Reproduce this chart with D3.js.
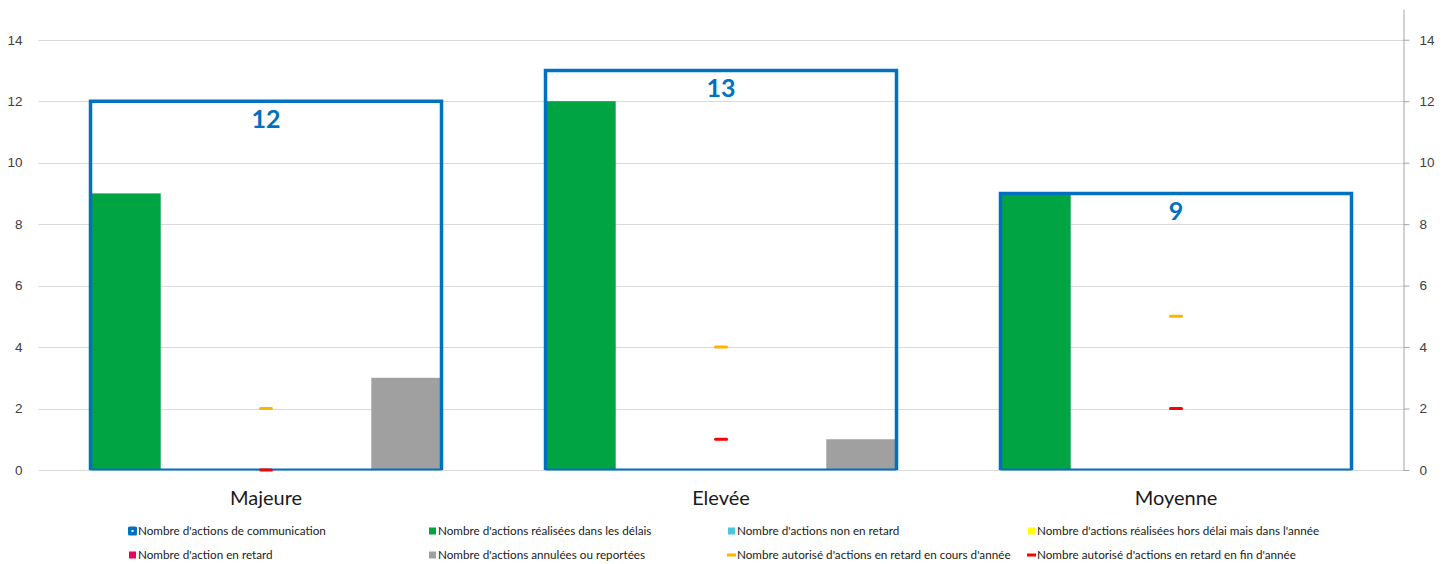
<!DOCTYPE html>
<html>
<head>
<meta charset="utf-8">
<script src="https://cdn.jsdelivr.net/npm/d3@7"></script>
<style>
  body { margin: 0; background: #fff; }
  svg { font-family: Lato, "Open Sans", sans-serif; }
  .tick text { fill: #404040; font-size: 13.5px; }
</style>
</head>
<body>
<script>
const categories = ["Majeure", "Elevée", "Moyenne"];
const communication = [12, 13, 9];
const barSeries = [
  "Nombre d'actions réalisées dans les délais",
  "Nombre d'actions non en retard",
  "Nombre d'actions réalisées hors délai mais dans l'année",
  "Nombre d'action en retard",
  "Nombre d'actions annulées ou reportées"
];
const barValues = [
  [9, 12, 9],
  [0, 0, 0],
  [0, 0, 0],
  [0, 0, 0],
  [3, 1, 0]
];
const autoCours = [2, 4, 5];
const autoFin = [0, 1, 2];
const yTicks = [0, 2, 4, 6, 8, 10, 12, 14];

const w = 1448, h = 564;
const colors = ["#00A443", "#4BC6DA", "#FFFF00", "#F0005A", "#A0A0A0"];
const blue = "#0070C0";

const svg = d3.select("body").append("svg").attr("width", w).attr("height", h);

const plotL = 38.5, plotR = 1403.5, plotT = 9, plotB = 470;

const y = d3.scaleLinear().domain([0, 15]).range([plotB, plotT]);
const x0 = d3.scaleBand().domain(categories).range([plotL, plotR])
  .paddingInner(104 / 455).paddingOuter(52 / 455);
const x1 = d3.scaleBand().domain(d3.range(barSeries.length)).range([0, x0.bandwidth()]);

// grid
svg.append("g").selectAll("line").data(yTicks).enter().append("line")
  .attr("x1", plotL).attr("x2", plotR)
  .attr("y1", d => Math.round(y(d)) + 0.5).attr("y2", d => Math.round(y(d)) + 0.5)
  .attr("stroke", "#d9d9d9").attr("stroke-width", 1);

// left axis, no line
const la = svg.append("g").attr("transform", `translate(${plotL},0)`)
  .call(d3.axisLeft(y).tickValues(yTicks).tickSize(0).tickPadding(16));
la.select(".domain").remove();

// right axis
const ra = svg.append("g").attr("transform", `translate(${plotR},0)`)
  .call(d3.axisRight(y).tickValues(yTicks).tickSize(6).tickPadding(10).tickSizeOuter(0));
ra.selectAll("line, .domain").attr("stroke", "#a6a6a6");

// bars
const groups = svg.append("g").selectAll("g").data(categories).enter().append("g")
  .attr("transform", d => `translate(${x0(d)},0)`);

groups.each(function (c, ci) {
  const g = d3.select(this);
  const bw = x0.bandwidth();
  barSeries.forEach((s, si) => {
    const v = barValues[si][ci];
    if (v > 0) {
      g.append("rect")
        .attr("x", x1(si)).attr("width", x1.bandwidth())
        .attr("y", y(v)).attr("height", y(0) - y(v))
        .attr("fill", colors[si]);
    }
  });
  // communication box: thick sides and top, thin bottom
  const yt = y(communication[ci]);
  g.append("path")
    .attr("d", `M0,${y(0)}V${yt}H${bw}V${y(0)}`)
    .attr("fill", "none").attr("stroke", blue).attr("stroke-width", 3.5);
  g.append("line")
    .attr("x1", 0).attr("x2", bw).attr("y1", y(0) - 0.5).attr("y2", y(0) - 0.5)
    .attr("stroke", blue).attr("stroke-width", 2);
  g.append("text")
    .attr("x", bw / 2).attr("y", yt + 27)
    .attr("text-anchor", "middle").attr("font-size", 25).attr("font-weight", "bold")
    .attr("fill", blue).text(communication[ci]);
  // markers
  const cx = bw / 2;
  [[autoCours, "#FFB300"], [autoFin, "#FF0000"]].forEach(([arr, col]) => {
    g.append("line")
      .attr("x1", cx - 5.5).attr("x2", cx + 5.5)
      .attr("y1", y(arr[ci])).attr("y2", y(arr[ci]))
      .attr("stroke", col).attr("stroke-width", 3).attr("stroke-linecap", "round");
  });
});

// category labels
svg.append("g").selectAll("text").data(categories).enter().append("text")
  .attr("x", d => x0(d) + x0.bandwidth() / 2).attr("y", 505)
  .attr("text-anchor", "middle").attr("font-size", 20).attr("fill", "#1a1a1a")
  .text(d => d);

// legend
const legendItems = [
  { label: "Nombre d'actions de communication", type: "box", color: blue },
  { label: barSeries[0], type: "sq", color: colors[0] },
  { label: barSeries[1], type: "sq", color: colors[1] },
  { label: barSeries[2], type: "sq", color: colors[2] },
  { label: barSeries[3], type: "sq", color: colors[3] },
  { label: barSeries[4], type: "sq", color: colors[4] },
  { label: "Nombre autorisé d'actions en retard en cours d'année", type: "dash", color: "#FFB300" },
  { label: "Nombre autorisé d'actions en retard en fin d'année", type: "dash", color: "#FF0000" }
];
const colX = [128, 428, 727, 1027];
const rowY = [531, 555];
const lg = svg.append("g").selectAll("g").data(legendItems).enter().append("g")
  .attr("transform", (d, i) => `translate(${colX[i % 4]},${rowY[Math.floor(i / 4)]})`);
lg.each(function (d) {
  const g = d3.select(this);
  if (d.type === "box") {
    g.append("rect").attr("x", 0).attr("y", -4.5).attr("width", 9).attr("height", 9)
      .attr("rx", 1.5).attr("fill", d.color);
    g.append("rect").attr("x", 3.5).attr("y", -1).attr("width", 2).attr("height", 2).attr("fill", "#fff");
  } else if (d.type === "sq") {
    g.append("rect").attr("x", 1).attr("y", -3.5).attr("width", 7).attr("height", 7).attr("fill", d.color);
  } else {
    g.append("rect").attr("x", 0).attr("y", -1.5).attr("width", 9).attr("height", 3).attr("fill", d.color);
  }
  g.append("text").attr("x", 10).attr("y", 0).attr("dy", "0.35em")
    .attr("font-size", 11.7).attr("fill", "#1a1a1a").text(d.label);
});
</script>
</body>
</html>
